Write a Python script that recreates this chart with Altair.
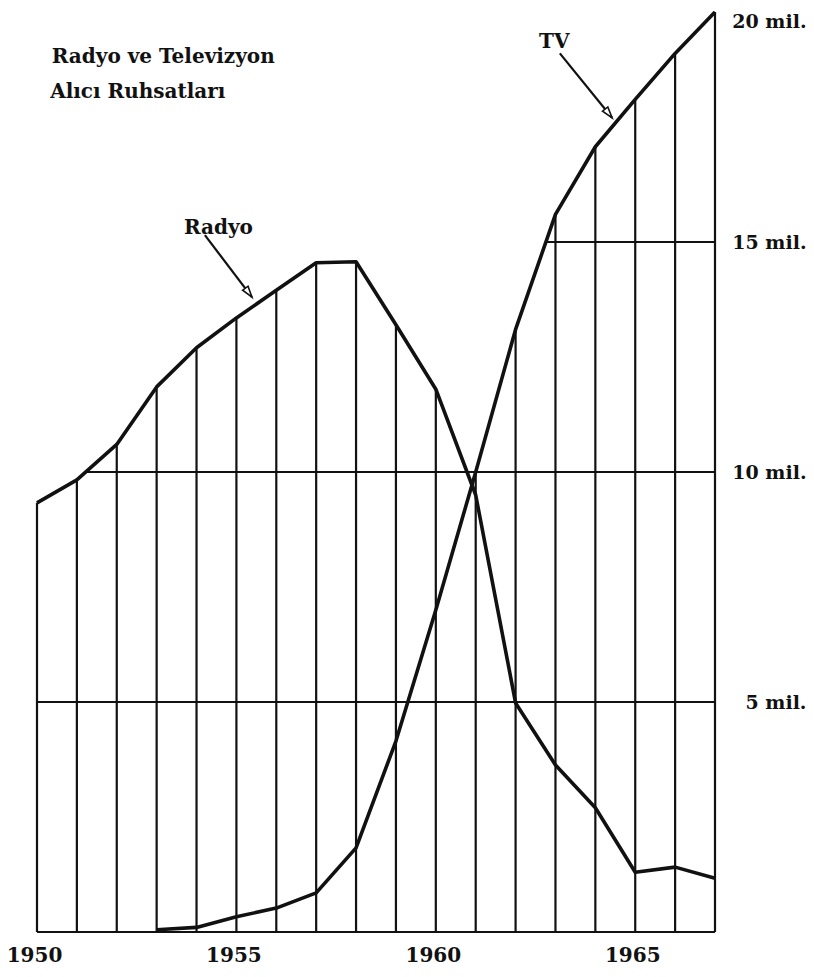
import altair as alt
import pandas as pd

# ---- data (millions of licences) ----
years = list(range(1950, 1968))
radyo = [9.33, 9.83, 10.6, 11.85, 12.7, 13.35, 13.95, 14.55, 14.57, 13.2,
         11.8, 9.5, 4.98, 3.63, 2.7, 1.3, 1.41, 1.17]
tv = [None, None, None, 0.05, 0.1, 0.33, 0.52, 0.85, 1.83, 4.15,
      7.0, 10.0, 13.1, 15.6, 17.07, 18.1, 19.1, 20.0]

x_label_years = [1950, 1955, 1960, 1965]
y_label_values = [5, 10, 15, 20]
grid_levels = [0, 5, 10, 15]

title_lines = ["Radyo ve Televizyon", "Alıcı Ruhsatları"]
series_names = ["Radyo", "TV"]

# ---- tables built from the arrays ----
rows = []
for y, r, t in zip(years, radyo, tv):
    rows.append({"year": y, "value": r, "series": "Radyo"})
    if t is not None:
        rows.append({"year": y, "value": t, "series": "TV"})
series_df = pd.DataFrame(rows)

env = [max(r, t if t is not None else 0.0) for r, t in zip(radyo, tv)]
rules_df = pd.DataFrame({"year": years, "base": [0.0] * len(years), "top": env})


def start_year(level):
    i = len(years) - 1
    while i > 0 and env[i - 1] >= level:
        i -= 1
    if i == 0:
        return float(years[0])
    a, b = env[i - 1], env[i]
    return years[i - 1] + (level - a) / (b - a)


grid_df = pd.DataFrame({
    "level": grid_levels,
    "start": [start_year(l) for l in grid_levels],
    "end": [float(years[-1])] * len(grid_levels),
})

# annotation placement (data units)
text_df = pd.DataFrame({
    "label": [title_lines[0], title_lines[1], series_names[0], series_names[1]],
    "x": [1950.37, 1950.33, 1954.55, 1962.97],
    "y": [18.89, 18.13, 15.3, 19.35],
    "align": ["left", "left", "center", "center"],
})
arrow_df = pd.DataFrame({
    "x": [1954.21, 1963.11],
    "y": [15.15, 19.1],
    "x2": [1955.39, 1964.42],
    "y2": [13.8, 17.7],
    "angle": [143.7, 141.8],
})

FONT = "DejaVu Serif"
INK = "#111111"

xs = alt.Scale(domain=[1949.273, 1967], nice=False, zero=False)
ys = alt.Scale(domain=[0, 20.087], nice=False, zero=False)

x_axis = alt.Axis(values=x_label_years, format="d", domain=False, ticks=False,
                  grid=False, labelFont=FONT, labelFontWeight="bold",
                  labelFontSize=20, labelColor=INK, labelPadding=23,
                  labelBaseline="middle", labelOffset=-3, labelFlush=False,
                  labelOverlap=False, title=None)
y_axis = alt.Axis(values=y_label_values, orient="right", domain=False,
                  ticks=False, grid=False, labelFont=FONT,
                  labelFontWeight="bold", labelFontSize=19, labelColor=INK,
                  labelAlign="right", labelPadding=91,
                  labelBaseline={"condition": {"test": "datum.value >= 20",
                                               "value": "top"},
                                 "value": "middle"},
                  labelFlush=False, labelOverlap=False,
                  labelExpr="datum.value + ' mil.'", title=None)


def X(field):
    return alt.X(field, scale=xs, axis=x_axis)


def Y(field):
    return alt.Y(field, scale=ys, axis=y_axis)


grid = alt.Chart(grid_df).mark_rule(color=INK, strokeWidth=2.2).encode(
    x=X("start:Q"), x2="end:Q", y=Y("level:Q"),
)

verticals = alt.Chart(rules_df).mark_rule(color=INK, strokeWidth=2.2).encode(
    x=X("year:Q"), y=Y("base:Q"), y2="top:Q",
)

lines = alt.Chart(series_df).mark_line(color=INK, strokeWidth=3.6,
                                        strokeJoin="round").encode(
    x=X("year:Q"), y=Y("value:Q"), detail="series:N",
)

arrows = alt.Chart(arrow_df).mark_rule(color=INK, strokeWidth=2.2).encode(
    x=X("x:Q"), y=Y("y:Q"), x2="x2:Q", y2="y2:Q",
)

heads = alt.Chart(arrow_df).mark_point(
    shape="M0,0L0.3,1L-0.3,1Z", filled=True, fill="white", stroke=INK,
    strokeWidth=1.6, size=500, opacity=1,
).encode(
    x=X("x2:Q"), y=Y("y2:Q"), angle=alt.Angle("angle:Q", scale=None),
)

texts_left = alt.Chart(text_df[text_df["align"] == "left"]).mark_text(
    font=FONT, fontWeight="bold", fontSize=20, color=INK, align="left",
    baseline="alphabetic",
).encode(x=X("x:Q"), y=Y("y:Q"), text="label:N")

texts_center = alt.Chart(text_df[text_df["align"] == "center"]).mark_text(
    font=FONT, fontWeight="bold", fontSize=20, color=INK, align="center",
    baseline="middle",
).encode(x=X("x:Q"), y=Y("y:Q"), text="label:N")

chart = alt.layer(grid, verticals, lines, arrows, heads, texts_left,
                  texts_center).properties(
    width=707, height=924, autosize="none",
    padding={"left": 0, "top": 0, "right": 91, "bottom": 37},
    background="white",
).configure_view(stroke=None)

chart.save("out.html", embed_options={"renderer": "svg", "actions": False})
